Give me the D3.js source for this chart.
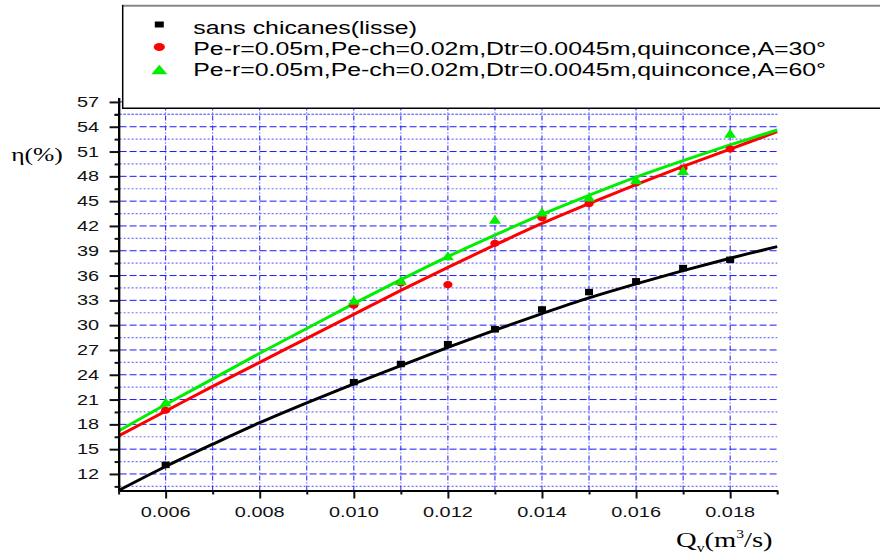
<!DOCTYPE html>
<html><head><meta charset="utf-8">
<script src="https://cdn.jsdelivr.net/npm/d3@7"></script>
<style>
html,body{margin:0;padding:0;background:#fff;}
svg{display:block;}
</style></head>
<body>
<svg id="chart" width="880" height="557"></svg>
<script>
// ---- data ----
const seriesNames = [
  "sans chicanes(lisse)",
  "Pe-r=0.05m,Pe-ch=0.02m,Dtr=0.0045m,quinconce,A=30°",
  "Pe-r=0.05m,Pe-ch=0.02m,Dtr=0.0045m,quinconce,A=60°"
];
const qPoints = [0.006, 0.010, 0.011, 0.012, 0.013, 0.014, 0.015, 0.016, 0.017, 0.018];
const etaSmooth = [13.1, 23.1, 25.3, 27.7, 29.5, 31.9, 34.0, 35.3, 36.9, 37.9];
const etaA30 = [19.7, 32.4, 35.1, 34.9, 39.9, 43.0, 44.7, 47.2, 49.0, 51.3];
const etaA60 = [20.7, 33.0, 35.4, 38.4, 42.8, 43.7, 45.5, 47.6, 48.7, 53.2];
// fitted curves at each 0.001
const qFit = [0.005, 0.006, 0.007, 0.008, 0.009, 0.010, 0.011, 0.012, 0.013, 0.014, 0.015, 0.016, 0.017, 0.018, 0.019];
const fitSmooth = [10.0, 12.9, 15.6, 18.2, 20.6, 22.9, 25.1, 27.3, 29.4, 31.4, 33.3, 35.0, 36.6, 38.1, 39.5];
const fitA30 = [16.6, 19.6, 22.6, 25.5, 28.4, 31.3, 34.2, 37.0, 39.7, 42.3, 44.7, 47.0, 49.2, 51.3, 53.4];
const fitA60 = [17.2, 20.4, 23.5, 26.6, 29.6, 32.6, 35.5, 38.3, 40.9, 43.4, 45.7, 47.9, 49.9, 51.8, 53.6];
const xTickLabels = ["0.006", "0.008", "0.010", "0.012", "0.014", "0.016", "0.018"];
const yTickLabels = ["12", "15", "18", "21", "24", "27", "30", "33", "36", "39", "42", "45", "48", "51", "54", "57"];
const xTitle = {main: "Q", sub: "v", pre: "(m", sup: "3", post: "/s)"};
const yTitle = "η(%)";

// ---- layout ----
const svg = d3.select("#chart");
const SX = 1.42; // horizontal stretch of the original picture
const x = d3.scaleLinear().domain([0.005, 0.019]).range([118.6, 777.2]);
const y = d3.scaleLinear().domain([10, 57.5]).range([490.5, 97.8]);

const xMajor = xTickLabels.map(Number);
const xAll = d3.range(5, 20).map(d => d / 1000);
const xMinor = xAll.filter(v => !xMajor.some(m => Math.abs(m - v) < 1e-9));
const yMajor = yTickLabels.map(Number);
const yMinor = yMajor.map(v => v - 1.5).concat([55.5]);

// ---- grid ----
const grid = svg.append("g");
grid.selectAll("line.ymin").data(yMinor).join("line")
  .attr("x1", x(0.005) + 1).attr("x2", x(0.019))
  .attr("y1", d => y(d)).attr("y2", d => y(d))
  .attr("stroke", "#7070ff").attr("stroke-width", 1.2).attr("stroke-dasharray", "2,2");
grid.selectAll("line.ymaj").data(yMajor).join("line")
  .attr("x1", x(0.005) + 1).attr("x2", x(0.019))
  .attr("y1", d => y(d)).attr("y2", d => y(d))
  .attr("stroke", "#1a1aff").attr("stroke-width", 1).attr("stroke-dasharray", "7,3");
grid.selectAll("line.xg").data(xAll.filter(v => v > 0.0055 && v < 0.0185)).join("line")
  .attr("x1", d => x(d)).attr("x2", d => x(d))
  .attr("y1", y(10)).attr("y2", y(57.5))
  .attr("stroke", "#1a1aff").attr("stroke-width", 1).attr("stroke-dasharray", "5,2,1,2");

// ---- fitted curves ----
const line = d3.line().x(d => x(d[0])).y(d => y(d[1])).curve(d3.curveCatmullRom);
const fits = [
  {vals: fitSmooth, color: "#000000"},
  {vals: fitA30, color: "#ff0000"},
  {vals: fitA60, color: "#00ee00"}
];
svg.append("g").selectAll("path").data(fits).join("path")
  .attr("d", f => line(qFit.map((q, i) => [q, f.vals[i]])))
  .attr("fill", "none").attr("stroke", f => f.color).attr("stroke-width", 3);

// ---- markers ----
function sq(w, h) { return `M${-w/2},${-h/2}h${w}v${h}h${-w}Z`; }
function tri(w, h) { return `M0,${-h/2}L${w/2},${h/2}L${-w/2},${h/2}Z`; }
const pts = svg.append("g");
pts.selectAll("path.s").data(qPoints.map((q, i) => [q, etaSmooth[i]])).join("path")
  .attr("d", sq(8, 6.5)).attr("fill", "#000")
  .attr("transform", d => `translate(${x(d[0])},${y(d[1])})`);
pts.selectAll("ellipse").data(qPoints.map((q, i) => [q, etaA30[i]])).join("ellipse")
  .attr("cx", d => x(d[0])).attr("cy", d => y(d[1])).attr("rx", 4.6).attr("ry", 3.6)
  .attr("fill", "#ff0000");
pts.selectAll("path.t").data(qPoints.map((q, i) => [q, etaA60[i]])).join("path")
  .attr("d", tri(12, 9)).attr("fill", "#00ee00")
  .attr("transform", d => `translate(${x(d[0])},${y(d[1])})`);

// ---- axes ----
const axisStyle = g => {
  g.select(".domain").attr("stroke", "#000").attr("stroke-width", 2.2);
  g.selectAll(".tick line").attr("stroke", "#111").attr("stroke-width", 2);
  g.selectAll(".tick text").remove();
};
svg.append("g").attr("transform", `translate(${x(0.005)},0)`)
  .call(d3.axisLeft(y).tickValues(yMajor).tickSize(9).tickSizeOuter(0).tickFormat(""))
  .call(axisStyle);
svg.append("g").attr("transform", `translate(${x(0.005)},0)`)
  .call(d3.axisLeft(y).tickValues(yMinor).tickSize(4).tickSizeOuter(0).tickFormat(""))
  .call(axisStyle);
svg.append("g").attr("transform", `translate(0,${y(10)})`)
  .call(d3.axisBottom(x).tickValues(xMajor).tickSize(8).tickSizeOuter(0).tickFormat(""))
  .call(axisStyle);
svg.append("g").attr("transform", `translate(0,${y(10)})`)
  .call(d3.axisBottom(x).tickValues(xMinor).tickSize(4).tickSizeOuter(0).tickFormat(""))
  .call(axisStyle);

// tick labels (stretched horizontally like the original)
svg.append("g").selectAll("text").data(yTickLabels).join("text")
  .attr("transform", d => `translate(99,${y(+d) + 5}) scale(${SX},1)`)
  .attr("text-anchor", "end").attr("font-family", "Liberation Sans, Arial, sans-serif")
  .attr("font-size", 14).attr("fill", "#111").text(d => d);
svg.append("g").selectAll("text").data(xTickLabels).join("text")
  .attr("transform", d => `translate(${x(+d)},517) scale(${SX},1)`)
  .attr("text-anchor", "middle").attr("font-family", "Liberation Sans, Arial, sans-serif")
  .attr("font-size", 14).attr("fill", "#111").text(d => d);

// axis titles
svg.append("text")
  .attr("transform", `translate(37,161) scale(${SX},1)`)
  .attr("text-anchor", "middle").attr("font-family", "Liberation Serif, Times New Roman, serif")
  .attr("font-size", 18).attr("fill", "#000").text(yTitle);
const xt = svg.append("text")
  .attr("transform", `translate(676,547) scale(1.3,1)`)
  .attr("font-family", "Liberation Serif, Times New Roman, serif")
  .attr("font-size", 22).attr("fill", "#000");
xt.append("tspan").text(xTitle.main);
xt.append("tspan").attr("dy", 5).attr("font-size", 12).text(xTitle.sub);
xt.append("tspan").attr("dy", -5).text(xTitle.pre);
xt.append("tspan").attr("dy", -9).attr("font-size", 12).text(xTitle.sup);
xt.append("tspan").attr("dy", 9).text(xTitle.post);

// ---- legend ----
const lg = svg.append("g");
lg.append("rect").attr("x", 122.5).attr("y", 5.5).attr("width", 800).attr("height", 103)
  .attr("fill", "#fff");
lg.append("line").attr("x1", 122).attr("x2", 880).attr("y1", 5.7).attr("y2", 5.7)
  .attr("stroke", "#888").attr("stroke-width", 2);
lg.append("line").attr("x1", 122.7).attr("x2", 122.7).attr("y1", 5).attr("y2", 108.5)
  .attr("stroke", "#000").attr("stroke-width", 1.5);
lg.append("line").attr("x1", 122).attr("x2", 880).attr("y1", 108.3).attr("y2", 108.3)
  .attr("stroke", "#000").attr("stroke-width", 1.5);
const rows = lg.selectAll("g.row").data(seriesNames).join("g")
  .attr("transform", (d, i) => `translate(0,${33.5 + i * 21})`);
rows.append("text").attr("transform", `translate(193.3,0) scale(${SX},1)`)
  .attr("font-family", "Liberation Sans, Arial, sans-serif").attr("font-size", 17.5)
  .attr("fill", "#000").text(d => d);
rows.filter((d, i) => i === 0).append("path").attr("d", sq(9, 6))
  .attr("transform", "translate(159.3,-9)").attr("fill", "#000");
rows.filter((d, i) => i === 1).append("ellipse").attr("cx", 159.3).attr("cy", -7.5)
  .attr("rx", 5.6).attr("ry", 4).attr("fill", "#ff0000");
rows.filter((d, i) => i === 2).append("path").attr("d", tri(16, 9.5))
  .attr("transform", "translate(159.3,-6)").attr("fill", "#00ee00");
</script>
</body></html>
